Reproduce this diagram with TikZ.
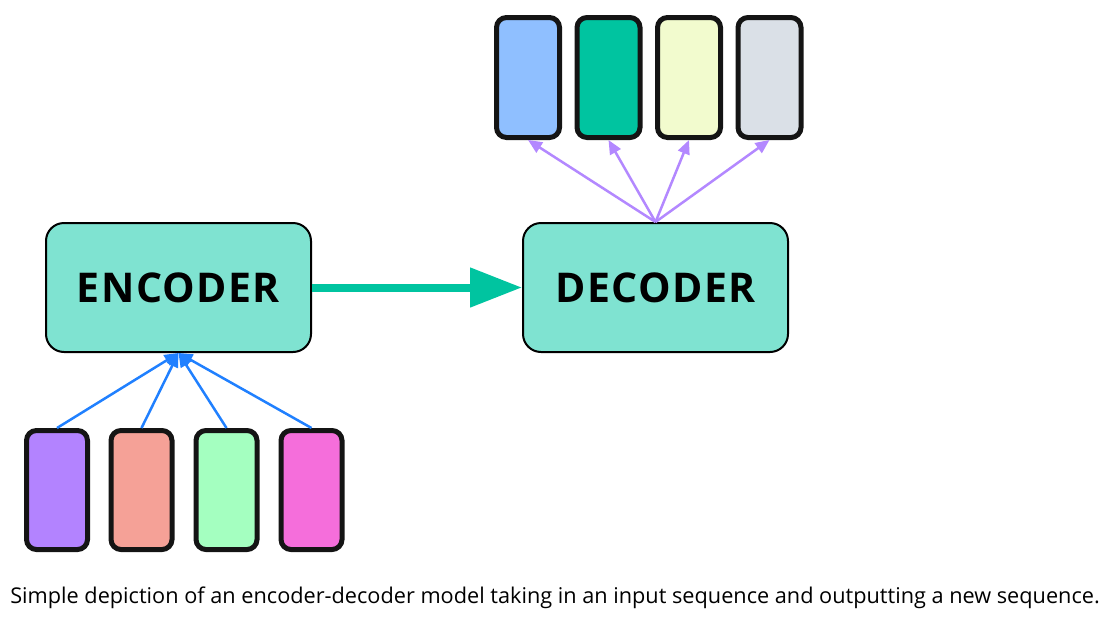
\documentclass[tikz,border=0pt]{standalone}
\usepackage{fontspec}
\setmainfont{Open Sans}
\newfontfamily\labelfont[LetterSpace=3.5]{Open Sans}
\usetikzlibrary{arrows.meta}
\definecolor{blockfill}{HTML}{7FE3D1}
\definecolor{teal}{HTML}{00C4A0}
\definecolor{arrblue}{HTML}{2080FF}
\definecolor{arrpurple}{HTML}{B388FF}
\definecolor{cpurple}{HTML}{B383FF}
\definecolor{csalmon}{HTML}{F5A197}
\definecolor{cgreen}{HTML}{A4FFC0}
\definecolor{cpink}{HTML}{F56EDB}
\definecolor{cblue}{HTML}{8FBFFF}
\definecolor{cteal}{HTML}{00C4A0}
\definecolor{cyellow}{HTML}{F2FBCE}
\definecolor{cgrey}{HTML}{DAE0E7}
\tikzset{
  block/.style={draw=black, line width=2pt, fill=blockfill, rounded corners=18pt,
    minimum width=265pt, minimum height=129pt, inner sep=0pt,
    font=\labelfont\fontsize{41}{45}\selectfont\bfseries},
  token/.style={draw=black!92, line width=5pt, rounded corners=10pt,
    minimum width=61pt, minimum height=119pt, inner sep=0pt},
  outtoken/.style={token, minimum width=63pt, minimum height=120pt},
  inarrow/.style={draw=arrblue, line width=2.5pt, -{Triangle[length=14pt,width=12pt]}},
  outarrow/.style={draw=arrpurple, line width=2.5pt, -{Triangle[length=14pt,width=12pt]}},
  mainarrow/.style={draw=teal, line width=8pt, -{Triangle[length=52pt,width=38pt]}}
}
\begin{document}
\begin{tikzpicture}[x=1pt,y=-1pt]
\useasboundingbox (0,0) rectangle (1115,616);
\node[block] (enc) at (178.5,287.5) {ENCODER};
\node[block] (dec) at (655.5,287.5) {DECODER};
\node[token, fill=cpurple] (i1) at (57,490) {};
\node[token, fill=csalmon] (i2) at (141.5,490) {};
\node[token, fill=cgreen] (i3) at (226.5,490) {};
\node[token, fill=cpink] (i4) at (311.5,490) {};
\node[outtoken, fill=cblue] (o1) at (528,77.5) {};
\node[outtoken, fill=cteal] (o2) at (608.5,77.5) {};
\node[outtoken, fill=cyellow] (o3) at (689,77.5) {};
\node[outtoken, fill=cgrey] (o4) at (769.5,77.5) {};
\draw[mainarrow] (enc.east) -- (dec.west);
\foreach \i in {1,...,4} {
  \draw[inarrow] (i\i.north) -- (enc.south);
  \draw[outarrow] (dec.north) -- (o\i.south);
}
\node[font=\fontsize{21.7}{24}\selectfont, anchor=base] (cap) at (555,603) {Simple depiction of an encoder-decoder model taking in an input sequence and outputting a new sequence.};
\end{tikzpicture}
\end{document}
